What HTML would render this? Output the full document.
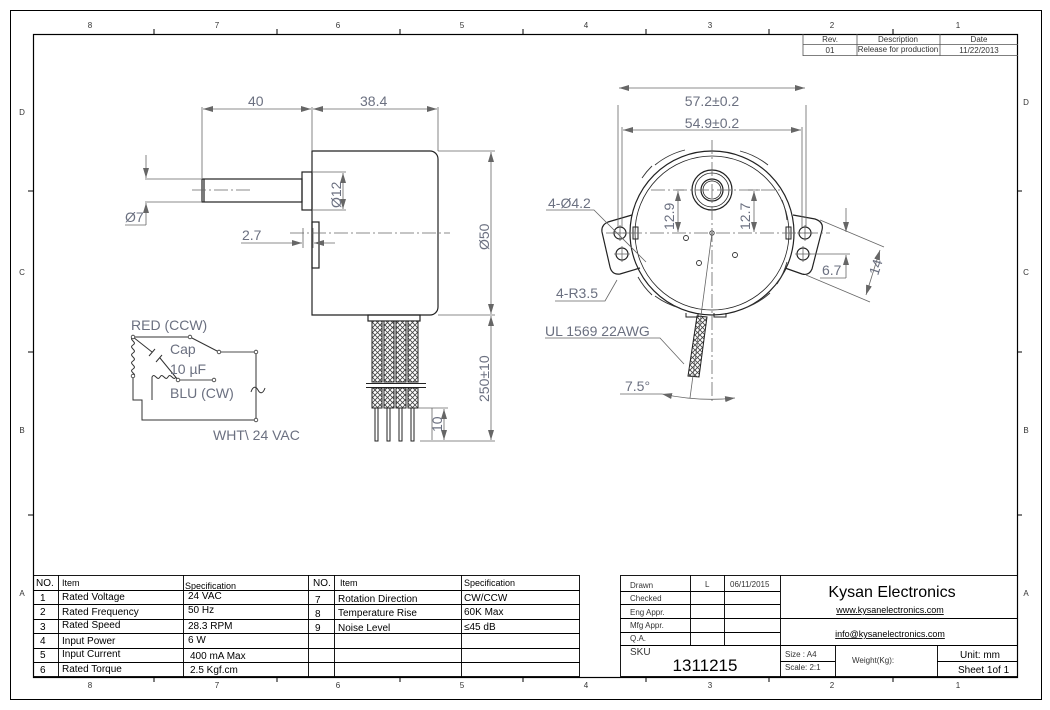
<!DOCTYPE html>
<html><head><meta charset="utf-8"><style>
html,body{margin:0;padding:0;background:#fff;}
svg{display:block;}
text{font-family:"Liberation Sans",sans-serif;}
.d{fill:#6b7080;font-size:14px;}
.t{fill:#000;font-size:10px;}
.s{fill:#333;font-size:8px;}
</style></head><body>
<svg width="1050" height="710" viewBox="0 0 1050 710" xmlns="http://www.w3.org/2000/svg">
<defs>
<pattern id="hx" width="5" height="5" patternUnits="userSpaceOnUse">
<rect width="5" height="5" fill="#fff"/>
<path d="M0,0L5,5M5,0L0,5" stroke="#444" stroke-width="0.8"/>
</pattern>
<marker id="a" markerWidth="10" markerHeight="6" refX="10" refY="3" orient="auto-start-reverse" markerUnits="userSpaceOnUse">
<path d="M0,0L10,3L0,6z" fill="#666"/>
</marker>
</defs>
<rect width="1050" height="710" fill="#fff"/>
<!-- borders -->
<rect x="10.5" y="10.5" width="1031" height="689" fill="none" stroke="#000" stroke-width="1"/>
<rect x="33.5" y="34.5" width="984" height="643" fill="none" stroke="#000" stroke-width="1.2"/>
<g stroke="#000" stroke-width="1">
<path d="M154,29v5M277,29v5M400,29v5M523,29v5M646,29v5M769,29v5M893,29v5"/>
<path d="M154,677v5M277,677v5M400,677v5M523,677v5M646,677v5M769,677v5M893,677v5"/>
<path d="M28,191h5M28,352h5M28,515h5M1017,191h5M1017,352h5M1017,515h5"/>
</g>
<g class="s" text-anchor="middle">
<text x="90" y="28">8</text><text x="217" y="28">7</text><text x="338" y="28">6</text><text x="462" y="28">5</text><text x="586" y="28">4</text><text x="710" y="28">3</text><text x="832" y="28">2</text><text x="958" y="28">1</text>
<text x="90" y="688">8</text><text x="217" y="688">7</text><text x="338" y="688">6</text><text x="462" y="688">5</text><text x="586" y="688">4</text><text x="710" y="688">3</text><text x="832" y="688">2</text><text x="958" y="688">1</text>
<text x="22" y="115">D</text><text x="22" y="275">C</text><text x="22" y="433">B</text><text x="22" y="596">A</text>
<text x="1026" y="105">D</text><text x="1026" y="275">C</text><text x="1026" y="433">B</text><text x="1026" y="596">A</text>
</g>
<!-- revision block -->
<g stroke="#555" stroke-width="0.8" fill="none">
<path d="M803,44.5h215M803,55.5h215M803,34v22M857,34v22M940,34v22"/>
</g>
<g class="s" text-anchor="middle" fill="#444">
<text x="830" y="42">Rev.</text><text x="898" y="42">Description</text><text x="979" y="42">Date</text>
<text x="830" y="53">01</text><text x="898" y="52">Release for production</text><text x="979" y="53">11/22/2013</text>
</g>

<!-- LEFT VIEW -->
<g stroke="#222" stroke-width="1.2" fill="none">
<path d="M312,151H430a8,8 0 0 1 8,8V307a8,8 0 0 1 -8,8H312Z"/>
<rect x="202" y="179" width="100" height="23"/>
<path d="M204,179v23"/>
<rect x="302" y="172" width="10" height="38"/>
<rect x="312" y="222" width="7" height="46"/>
<rect x="368" y="315" width="52" height="6"/>
</g>
<g fill="url(#hx)" stroke="#222" stroke-width="1">
<rect x="372" y="321" width="10" height="61"/><rect x="384" y="321" width="10" height="61"/><rect x="396" y="321" width="10" height="61"/><rect x="408" y="321" width="10" height="61"/>
<rect x="372" y="388" width="10" height="20"/><rect x="384" y="388" width="10" height="20"/><rect x="396" y="388" width="10" height="20"/><rect x="408" y="388" width="10" height="20"/>
</g>
<g stroke="#222" stroke-width="1" fill="none">
<path d="M366,383.5h60M366,387.5h60"/>
<rect x="375" y="408" width="3" height="33"/><rect x="387" y="408" width="3" height="33"/><rect x="399" y="408" width="3" height="33"/><rect x="411" y="408" width="3" height="33"/>
</g>
<g stroke="#666" stroke-width="0.8" fill="none">
<path d="M192,190h60M290,233h160" stroke-dasharray="14,3,2,3"/>
<path d="M202,107v71M312,107v44M438,107v44"/>
<path d="M438,151h57M438,315h57M420,441h75"/>
<path d="M145,179h57M145,202h57"/>
<path d="M313,172h33M313,210h33"/>
<path d="M303,228v20M313,228v20"/>
<path d="M418,408h30"/>
</g>
<g stroke="#666" stroke-width="0.8" fill="none" marker-start="url(#a)" marker-end="url(#a)">
<path d="M203,109H311"/><path d="M313,109H437"/>
<path d="M491,152V314"/><path d="M491,316V440"/>
<path d="M343,173V209"/>
<path d="M444,409V440"/>
</g>
<g stroke="#666" stroke-width="0.8" fill="none">
<path d="M146,155V178" marker-end="url(#a)"/><path d="M146,225V203" marker-end="url(#a)"/><path d="M125,225h21"/>
<path d="M241,243H302" marker-end="url(#a)"/><path d="M335,243H314" marker-end="url(#a)"/>
<path d="M432,408V440"/>
</g>
<g class="d">
<text x="248" y="106">40</text>
<text x="360" y="106">38.4</text>
<text x="125" y="222">Ø7</text>
<text x="242" y="240">2.7</text>
<text transform="translate(341,208) rotate(-90)">Ø12</text>
<text transform="translate(489,250) rotate(-90)">Ø50</text>
<text transform="translate(489,402) rotate(-90)">250±10</text>
<text transform="translate(442,432) rotate(-90)">10</text>
</g>

<!-- circuit -->
<g stroke="#333" stroke-width="1" fill="none">
<path d="M133,337H190M190,337L219,352M219,352H256V420H142V400H133V376"/>
<path d="M133,337c-5,3 5,5 0,8c-5,3 5,5 0,8c-5,3 5,5 0,8c-5,3 5,5 0,8c-5,3 5,5 0,7"/>
<path d="M152,400V377c3,-5 5,5 8,0c3,-5 5,5 8,0c3,-5 5,5 8,0"/>
<path d="M133,337L152,352M160,358L178,380M149,356l6,-7M156,362l6,-7"/>
<path d="M178,380H214" stroke="#888" stroke-width="1.4"/>
<path d="M219,352H256" stroke="#888" stroke-width="1.4"/>
<path d="M251,392c2,-6 5,-6 7,-2s5,4 7,-2"/>
</g>
<g fill="#fff" stroke="#333" stroke-width="0.8">
<circle cx="133" cy="337" r="1.8"/><circle cx="190" cy="337" r="1.8"/><circle cx="219" cy="352" r="1.8"/><circle cx="256" cy="352" r="1.8"/><circle cx="133" cy="376" r="1.8"/><circle cx="178" cy="380" r="1.8"/><circle cx="214" cy="380" r="1.8"/><circle cx="256" cy="420" r="1.8"/>
</g>
<g class="d">
<text x="131" y="330">RED (CCW)</text>
<text x="170" y="354">Cap</text>
<text x="170" y="374">10 µF</text>
<text x="170" y="398">BLU (CW)</text>
<text x="213" y="440">WHT\ 24 VAC</text>
</g>

<!-- RIGHT VIEW -->
<g stroke="#222" stroke-width="1.2" fill="none">
<path d="M632,215L608,222Q601,225 602,232L610,267Q612,275 620,274L640,268"/>
<path d="M793,215L815,219Q824,222 822,230L812,269Q809,276 802,274L785,268"/>
<circle cx="712" cy="233" r="82"/>
<circle cx="712" cy="233" r="77" stroke-width="0.8"/>
<circle cx="712" cy="190" r="20"/><circle cx="712" cy="190" r="17" stroke-width="0.8"/>
<circle cx="712" cy="190" r="11"/><circle cx="712" cy="190" r="9" stroke-width="0.8"/>
<circle cx="620" cy="233" r="6"/><circle cx="622" cy="254" r="6"/>
<circle cx="805" cy="233" r="6"/><circle cx="803" cy="254" r="6"/>
<rect x="633" y="227" width="5" height="12" stroke-width="1"/><rect x="786" y="227" width="5" height="12" stroke-width="1"/>
<path d="M686,313v4h12v-4M714,313v4h12v-4" stroke-width="1"/>
</g>
<g stroke="#333" stroke-width="0.9" fill="none">
<circle cx="686" cy="238" r="2.5"/><circle cx="735" cy="255" r="2.5"/><circle cx="699" cy="263" r="2.5"/><circle cx="712" cy="233" r="2.2"/>
<path d="M655,165a76,76 0 0 1 30,-15M740,151a76,76 0 0 1 28,14M782,200a76,76 0 0 1 5,20M652,295a76,76 0 0 1 -14,-18M787,262a76,76 0 0 1 -10,22M770,293a76,76 0 0 1 -25,15M680,308a76,76 0 0 1 -25,-12M642,178a76,76 0 0 1 10,-12"/>
</g>
<g fill="url(#hx)" stroke="#222" stroke-width="1">
<path d="M697,316L707,317L699,377L688,376Z"/>
</g>
<g stroke="#666" stroke-width="0.8" fill="none">
<path d="M606,233H830M712,140V402M651,190H780" stroke-dasharray="14,3,2,3"/>
<path d="M620,225v16M612,233h16M622,246v16M614,254h16M805,225v16M797,233h16M803,246v16M795,254h16"/>
<path d="M618,105v122M806,105v122M622,127v100M802,127v100"/>
<path d="M676,190h8M748,190h12"/>
<path d="M808,254h42M820,220L884,247M806,275L870,302"/>
<path d="M712,233L690,398"/>
<path d="M546,210h48L646,262M555,301h50L617,280M545,338h115L684,364M620,394h42"/>
</g>
<g stroke="#666" stroke-width="0.8" fill="none" marker-start="url(#a)" marker-end="url(#a)">
<path d="M619,88H805"/><path d="M623,130H801"/>
<path d="M678,191V232"/><path d="M754,191V232"/>
<path d="M880,250L866,295"/>
<path d="M662,394Q700,402 735,398"/>
</g>
<g stroke="#666" stroke-width="0.8" fill="none">
<path d="M846,208V232" marker-end="url(#a)"/><path d="M846,278V255" marker-end="url(#a)"/><path d="M820,278h26"/>
</g>
<g class="d">
<text x="712" y="106" text-anchor="middle">57.2±0.2</text>
<text x="712" y="128" text-anchor="middle">54.9±0.2</text>
<text x="548" y="208">4-Ø4.2</text>
<text x="556" y="298">4-R3.5</text>
<text x="545" y="336">UL 1569 22AWG</text>
<text x="625" y="391">7.5°</text>
<text x="822" y="275">6.7</text>
<text transform="translate(674,230) rotate(-90)">12.9</text>
<text transform="translate(750,230) rotate(-90)">12.7</text>
<text transform="translate(878,276) rotate(-72)">14</text>
</g>

<!-- SPEC TABLE -->
<g stroke="#000" stroke-width="0.9" fill="none">
<rect x="33.5" y="575.5" width="546" height="101"/>
<path d="M33,590.5h547M33,604.5h547M33,619.5h547M33,633.5h547M33,648.5h547M33,662.5h547"/>
<path d="M58.5,575v102M183.5,575v102M308.5,575v102M334.5,575v102M461.5,575v102"/>
</g>
<g class="t">
<text x="36" y="586">NO.</text><text x="62" y="586" font-size="9">Item</text><text x="185" y="589" font-size="9">Specification</text>
<text x="313" y="586">NO.</text><text x="340" y="586" font-size="9">Item</text><text x="464" y="586" font-size="9">Specification</text>
<text x="40" y="601">1</text><text x="62" y="600">Rated Voltage</text><text x="188" y="599">24 VAC</text>
<text x="40" y="615">2</text><text x="62" y="615">Rated Frequency</text><text x="188" y="613">50 Hz</text>
<text x="40" y="630">3</text><text x="62" y="628">Rated Speed</text><text x="188" y="629">28.3 RPM</text>
<text x="40" y="644">4</text><text x="62" y="644">Input Power</text><text x="188" y="643">6 W</text>
<text x="40" y="658">5</text><text x="62" y="657">Input Current</text><text x="190" y="659">400 mA Max</text>
<text x="40" y="673">6</text><text x="62" y="672">Rated Torque</text><text x="190" y="673">2.5 Kgf.cm</text>
<text x="315" y="603">7</text><text x="338" y="602">Rotation Direction</text><text x="464" y="601">CW/CCW</text>
<text x="315" y="617">8</text><text x="338" y="616">Temperature Rise</text><text x="464" y="615">60K  Max</text>
<text x="315" y="631">9</text><text x="338" y="631">Noise Level</text><text x="464" y="630">≤45 dB</text>
</g>

<!-- TITLE BLOCK -->
<g stroke="#000" stroke-width="0.9" fill="none">
<rect x="620.5" y="575.5" width="397" height="101"/>
<path d="M620,591.5h160M620,604.5h160M620,618.5h398M620,632.5h160M620,645.5h398"/>
<path d="M690.5,575v70M724.5,575v70M780.5,575v102M835.5,645v32M937.5,645v32M780,661.5h55M937,661.5h81"/>
</g>
<g class="s" fill="#000">
<text x="630" y="588">Drawn</text><text x="705" y="587">L</text><text x="730" y="587">06/11/2015</text>
<text x="630" y="601">Checked</text>
<text x="630" y="615">Eng Appr.</text>
<text x="630" y="628">Mfg Appr.</text>
<text x="630" y="641">Q.A.</text>
<text x="630" y="655" font-size="10">SKU</text>
<text x="785" y="657">Size : A4</text><text x="785" y="670">Scale: 2:1</text>
<text x="852" y="663">Weight(Kg):</text>
</g>
<text x="705" y="671" text-anchor="middle" font-size="17" fill="#000">1311215</text>
<text x="892" y="597" text-anchor="middle" font-size="16" fill="#000">Kysan Electronics</text>
<text x="890" y="613" text-anchor="middle" font-size="9" fill="#000" text-decoration="underline">www.kysanelectronics.com</text>
<text x="890" y="637" text-anchor="middle" font-size="9" fill="#000" text-decoration="underline">info@kysanelectronics.com</text>
<text x="960" y="658" font-size="10" fill="#000">Unit: mm</text>
<text x="958" y="673" font-size="10" fill="#000">Sheet 1of 1</text>
</svg>
</body></html>
